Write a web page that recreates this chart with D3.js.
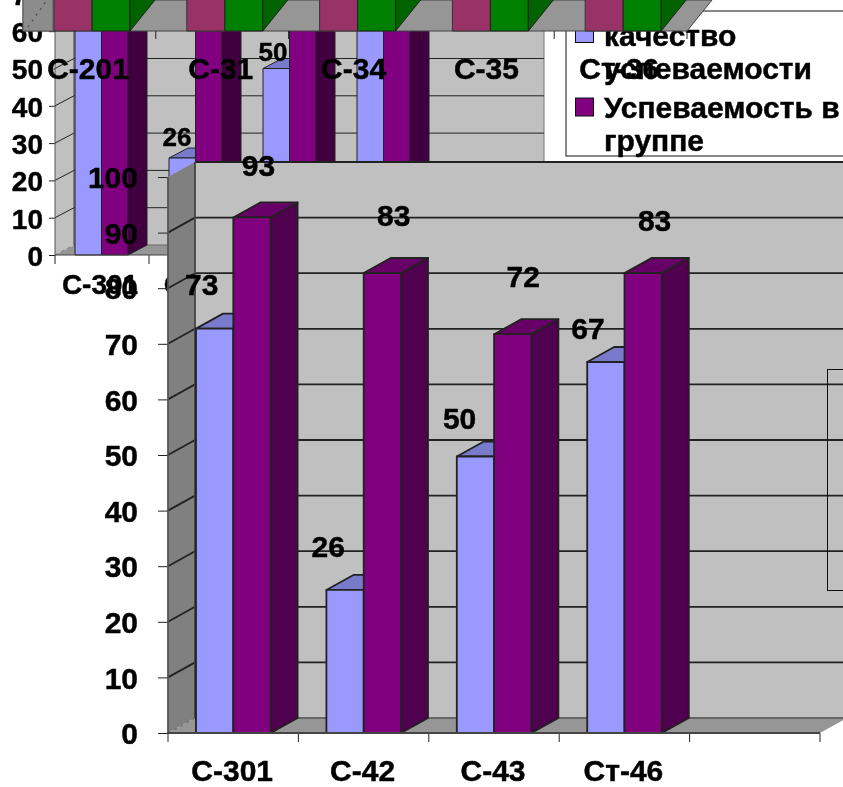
<!DOCTYPE html>
<html><head><meta charset="utf-8">
<script src="https://cdn.jsdelivr.net/npm/d3@7"></script>
<style>html,body{margin:0;padding:0;background:#fff;overflow:hidden}svg{display:block}text{font-family:"Liberation Sans",Arial,sans-serif;font-weight:bold;fill:#000;stroke:#000;stroke-width:.45px}</style>
</head><body>
<svg id="c" width="843" height="787"></svg>
<script>
const frontCats = ["С-301","С-42","С-43","Ст-46",""];
const backCats = ["С-301","С-42","С-43","Ст-46","",""];
const topCats = ["С-201","С-31","С-34","С-35","Ст-36"];
const quality = [73,26,50,67];
const progress = [93,83,72,83];
const topA = [100,100,100,100,100];
const topB = [100,100,100,100,100];
const yTicks = [0,10,20,30,40,50,60,70,80,90,100];
const legendBlue = ["качество","успеваемости"];
const legendPurple = ["Успеваемость в","группе"];

const svg = d3.select("#c");
const defs = svg.append("defs");
defs.append("filter").attr("id","soft").attr("x","-5%").attr("y","-5%").attr("width","110%").attr("height","110%")
  .append("feGaussianBlur").attr("stdDeviation",0.45);
const root = svg.append("g").attr("filter","url(#soft)");
const BLUE="#9999ff",BLUET="#7a7acc",PUR="#800080",PURT="#660066",PURS="#4f004f",WALL="#c0c0c0",FLOOR="#969696",LINE="#222";
const poly=(g,pts,fill,stroke,sw)=>g.append("path").attr("d","M"+pts.map(p=>p.join(",")).join("L")+"Z").attr("fill",fill).attr("stroke",stroke||"none").attr("stroke-width",sw||1).attr("stroke-linejoin","round");
const T=(g,x,y,s,fs,anchor)=>g.append("text").attr("x",x).attr("y",y).attr("font-size",fs).attr("text-anchor",anchor||"middle").attr("dominant-baseline","central").text(s);

function bar3d(g,x0,w,yTop,yBase,dx,dy,front,top,side,sw){
  if(side) poly(g,[[x0+w,yBase],[x0+w+dx,yBase+dy],[x0+w+dx,yTop+dy],[x0+w,yTop]],side,LINE,sw);
  poly(g,[[x0,yTop],[x0+dx,yTop+dy],[x0+w+dx,yTop+dy],[x0+w,yTop]],top,LINE,sw);
  poly(g,[[x0,yTop],[x0+w,yTop],[x0+w,yBase],[x0,yBase]],front,LINE,sw);
}
function styleAxis(a,fs,stroke,textDy){
  a.selectAll("text").attr("font-size",fs).style("font-weight","bold").attr("fill","#000").attr("font-family",'"Liberation Sans",Arial,sans-serif').attr("transform",`translate(0,${textDy||0})`);
  a.selectAll("line").attr("stroke",stroke);
  a.select(".domain").remove();
}
// generic 3D column chart
function chart(o){
  const g=root.append("g");
  const y=d3.scaleLinear().domain([0,100]).range([o.y0,o.y100]);
  const x=d3.scaleBand().domain(o.cats.map((c,i)=>i)).range([o.x0,o.x1]);
  const dx=o.dx,dy=o.dy,xEnd=o.x1;
  poly(g,[[o.x0+dx,o.y100+dy],[o.wallR,o.y100+dy],[o.wallR,o.y0+dy],[o.x0+dx,o.y0+dy]],WALL,null);
  poly(g,[[o.x0,o.y100],[o.x0+dx,o.y100+dy],[o.x0+dx,o.y0+dy],[o.x0,o.y0]],o.leftFill,null);
  poly(g,[[o.x0,o.y0],[o.x0+dx,o.y0+dy],[xEnd+dx,o.y0+dy],[xEnd,o.y0]],FLOOR,null);
  if(o.wallEdge) g.append("line").attr("x1",o.wallR).attr("x2",o.wallR).attr("y1",o.y100+dy).attr("y2",o.y0+dy).attr("stroke","#777");
  yTicks.forEach(v=>{
    if(v>0) g.append("line").attr("x1",o.x0+dx).attr("x2",o.wallR).attr("y1",y(v)+dy).attr("y2",y(v)+dy).attr("stroke",LINE).attr("stroke-width",o.gw);
    if(v<100||o.topDiag) g.append("line").attr("x1",o.x0).attr("x2",o.x0+dx).attr("y1",y(v)).attr("y2",y(v)+dy).attr("stroke",v==0?"#777":LINE).attr("stroke-width",o.gw).attr("stroke-dasharray",v==0?"3 4":null);
  });
  g.append("line").attr("x1",o.x0+dx).attr("x2",o.x0+dx).attr("y1",o.y100+dy).attr("y2",o.y0+dy).attr("stroke","#444").attr("stroke-width",o.gw);
  g.append("line").attr("x1",o.x0+dx).attr("x2",xEnd+dx).attr("y1",o.y0+dy).attr("y2",o.y0+dy).attr("stroke","#666").attr("stroke-width",o.gw);
  quality.forEach((v,i)=>{
    const xb=x(i)+o.barOff, s=o.barShift||0;
    bar3d(g,xb,o.barW,y(v)+s,o.y0,dx,dy,BLUE,BLUET,null,o.bw);
    bar3d(g,xb+o.barW,o.barW,y(progress[i])+s,o.y0,dx,dy,PUR,PURT,o.sideFill,o.bw);
  });
  const ya=g.append("g").attr("transform",`translate(${o.x0},0)`).call(d3.axisLeft(y).tickValues(yTicks).tickSize(o.tickL).tickPadding(o.tickP));
  styleAxis(ya,o.axisFs,"#222",o.textDy);
  const xa=g.append("g").attr("transform",`translate(0,${o.y0})`).call(d3.axisBottom(x).tickFormat(i=>o.cats[i]).tickSize(0).tickPadding(o.labP));
  styleAxis(xa,o.axisFs,"#222",0);
  xa.selectAll("text").attr("dx",o.catDx||0);
  d3.range(o.cats.length+1).forEach(i=>{
    const px=i<o.cats.length?x(i):o.x1;
    g.append("line").attr("x1",px).attr("x2",px).attr("y1",o.y0).attr("y2",o.y0+9).attr("stroke","#222");
  });
  g.append("line").attr("x1",o.x0).attr("x2",o.x0).attr("y1",o.y100).attr("y2",o.y0).attr("stroke","#555").attr("stroke-width",o.gw);
  g.append("line").attr("x1",o.x0).attr("x2",o.x1).attr("y1",o.y0).attr("y2",o.y0).attr("stroke","#444").attr("stroke-width",o.gw);
  return {g,x,y};
}

// layer 1: chart behind
const back=chart({cats:backCats,x0:55,x1:619,y0:255,y100:-118,dx:19,dy:-10,wallR:544,leftFill:WALL,gw:1,bw:1,
  barOff:20,barW:26.5,sideFill:"#400040",tickL:6,tickP:6,axisFs:28,labP:19,catDx:-2,wallEdge:true,textDy:1.5});
quality.forEach((v,i)=>{
  if(i==1) T(back.g,back.x(i)+28,back.y(v)-21,v,26);
  if(i==2) T(back.g,back.x(i)+30,back.y(v)-17,v,26);
});

// legend
const lg=root.append("g");
lg.append("rect").attr("x",566).attr("y",11).attr("width",300).attr("height",145).attr("fill","#fff").attr("stroke","#111").attr("stroke-width",1);
const lgFs=30;
lg.append("rect").attr("x",575.5).attr("y",23.5).attr("width",18).attr("height",19).attr("fill",BLUE).attr("stroke","#111");
lg.append("rect").attr("x",575.5).attr("y",98).attr("width",18).attr("height",18).attr("fill",PUR).attr("stroke","#111");
legendBlue.forEach((s,i)=>T(lg,604,35+i*33,s,lgFs,"start"));
legendPurple.forEach((s,i)=>T(lg,604,107+i*33,s,lgFs,"start"));

// layer 2: chart at the very top, only its floor strip and labels remain
const tg=root.append("g");
const xT=d3.scaleBand().domain(topCats).range([23,687]);
const yT=d3.scaleLinear().domain([0,100]).range([31,-100]);
poly(tg,[[23,31],[xT.range()[1],31],[xT.range()[1]+25,0],[23,0]],FLOOR,"#444",1);
poly(tg,[[23,31],[53,31],[53,-5],[23,-5]],"#8c8c8c","#555",1);
tg.append("line").attr("x1",28).attr("y1",27).attr("x2",47).attr("y2",0).attr("stroke","#555").attr("stroke-dasharray","2 5").attr("stroke-width",1.5);
topCats.forEach((c,i)=>{
  const xb=xT(c)+31,w=38;
  poly(tg,[[xb,31],[xb,yT(topA[i])],[xb+w,yT(topA[i])],[xb+w,31]],"#993366","#333");
  poly(tg,[[xb+w,31],[xb+w,yT(topB[i])],[xb+2*w,yT(topB[i])],[xb+2*w,31]],"#008000","#222");
  poly(tg,[[xb+2*w,31],[xb+2*w,yT(topB[i])],[xb+2*w+25,0]],"#006400","#222");
  tg.append("line").attr("x1",xT(c)).attr("x2",xT(c)).attr("y1",31).attr("y2",39).attr("stroke","#222");
  T(tg,xT(c)+65,68,c,30);
});
tg.append("line").attr("x1",xT.range()[1]).attr("x2",xT.range()[1]).attr("y1",31).attr("y2",39).attr("stroke","#222");

// layer 3: the front chart
const front=chart({cats:frontCats,x0:168,x1:820,y0:733,y100:177,dx:27,dy:-15,wallR:860,leftFill:"#808080",gw:1.8,bw:1.8,
  barOff:28,barW:37.3,barShift:1.5,sideFill:PURS,tickL:10,tickP:20,axisFs:30,labP:27,textDy:1,catDx:-1});
const nudgeQ=[[-13,-43],[-17,-42],[-16,-37],[-18,-32]];
const nudgeP=[[6,-50],[11,-56],[10,-56],[11,-51]];
quality.forEach((v,i)=>{
  const xb=front.x(i)+28;
  T(front.g,xb+18.8+nudgeQ[i][0],front.y(v)+nudgeQ[i][1],v,30);
  T(front.g,xb+56.4+nudgeP[i][0],front.y(progress[i])+nudgeP[i][1],progress[i],30);
});
root.append("rect").attr("x",827.5).attr("y",369.5).attr("width",40).attr("height",221).attr("fill","none").attr("stroke","#111").attr("stroke-width",1);
</script>
</body></html>
